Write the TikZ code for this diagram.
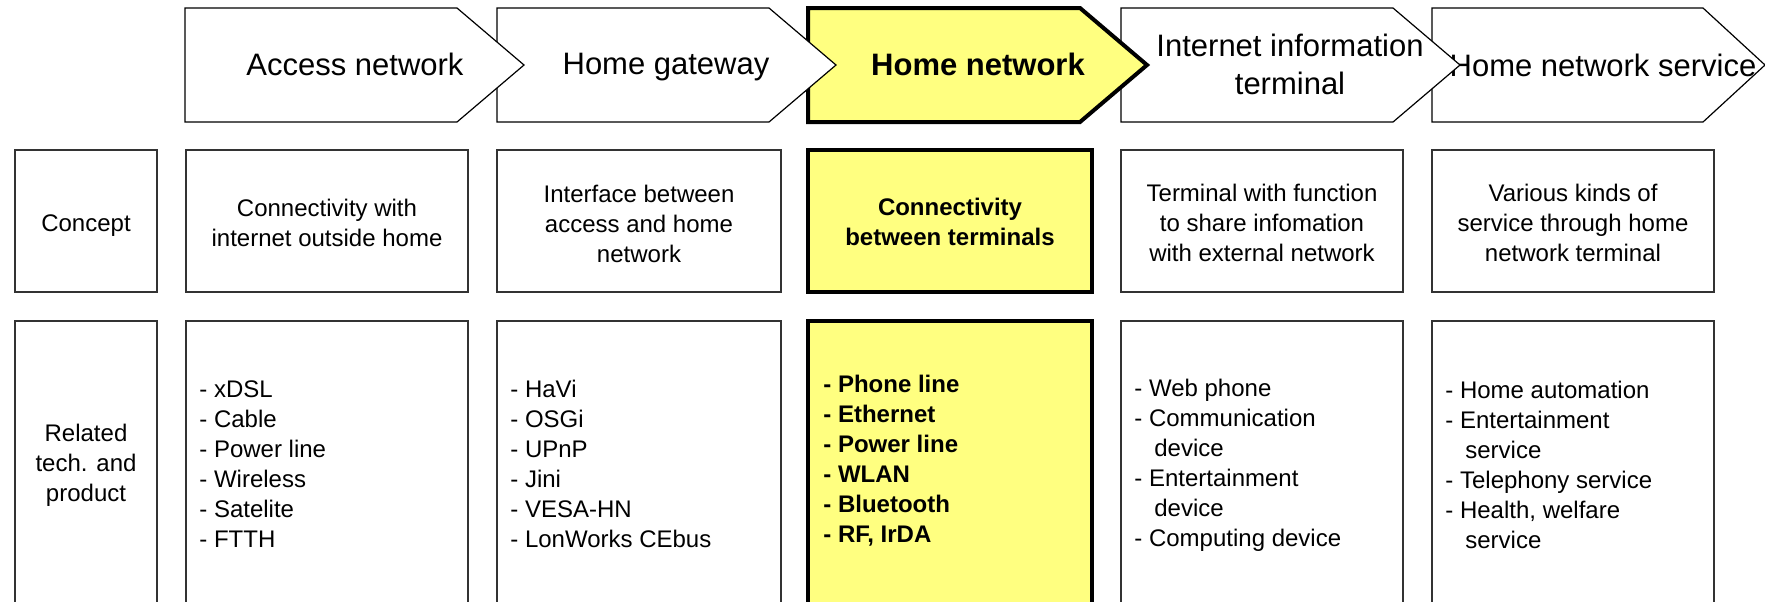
\documentclass[tikz,border=0pt]{standalone}
\usepackage{fontspec}
\setmainfont{Liberation Sans}
\usetikzlibrary{fit}
\definecolor{hl}{RGB}{255,255,128}
\tikzset{
  x=0.5pt, y=-0.5pt,
  chev/.style={draw=black, line width=0.6pt, fill=white, line join=miter},
  chevhl/.style={draw=black, line width=2pt, fill=hl, line join=miter},
  cell/.style={draw=black!80, line width=0.6pt, fill=white, rectangle, inner sep=0pt},
  cellhl/.style={cell, draw=black, line width=2pt, fill=hl},
  head/.style={font=\fontsize{15.5}{19}\selectfont, align=center, inner sep=0pt},
  headb/.style={font=\fontsize{15.5}{19}\selectfont\bfseries, align=center, inner sep=0pt},
  body/.style={font=\fontsize{12}{15}\selectfont, align=center, inner sep=0pt},
  bodyb/.style={font=\fontsize{12}{15}\selectfont\bfseries, align=center, inner sep=0pt},
  listtxt/.style={font=\fontsize{12}{15}\selectfont, align=left, anchor=west, inner sep=0pt},
  listtxtb/.style={listtxt, font=\fontsize{12}{15}\selectfont\bfseries},
}
\newcommand{\ind}{\hspace*{0.83em}}
\begin{document}
\begin{tikzpicture}
\useasboundingbox (0,0) rectangle (1765,601);
% ---- row 1: chevrons (drawn right to left so each tip lies on the next) ----
\draw[chev] (1432,8) -- (1703,8) -- (1765,65) -- (1703,122) -- (1432,122) -- cycle;
\node[head] (h5) at (1603,65) {Home network service};
\draw[chev] (1121,8) -- (1393,8) -- (1460,65) -- (1393,122) -- (1121,122) -- cycle;
\node[head] (h4) at (1290,64) {Internet information\\terminal};
\draw[chevhl] (808,8) -- (1080,8) -- (1147,65) -- (1080,122) -- (808,122) -- cycle;
\node[headb] (h3) at (978,64) {Home network};
\draw[chev] (497,8) -- (769,8) -- (836,65) -- (769,122) -- (497,122) -- cycle;
\node[head] (h2) at (666,67) {Home gateway};
\draw[chev] (185,8) -- (457,8) -- (524,65) -- (457,122) -- (185,122) -- cycle;
\node[head] (h1) at (355,64) {Access network};
% ---- row 2: concept ----
\node[cell, fit={(15,150) (157,292)}] (c0) {};
\node[cell, fit={(186,150) (468,292)}] (c1) {};
\node[cell, fit={(497,150) (781,292)}] (c2) {};
\node[cellhl, fit={(808,150) (1092,292)}] (c3) {};
\node[cell, fit={(1121,150) (1403,292)}] (c4) {};
\node[cell, fit={(1432,150) (1714,292)}] (c5) {};
\node[body] (tc0) at (86,226) {Concept};
\node[body] (tc1) at (327,223) {Connectivity with\\internet outside home};
\node[body] (tc2) at (639,224) {Interface between\\access and home\\network};
\node[bodyb] (tc3) at (950,222) {Connectivity\\between terminals};
\node[body] (tc4) at (1262,223) {Terminal with function\\to share infomation\\with external network};
\node[body] (tc5) at (1573,223) {Various kinds of\\service through home\\network terminal};
% ---- row 3: related tech. and product ----
\node[cell, fit={(15,321) (157,604)}] (r0) {};
\node[cell, fit={(186,321) (468,604)}] (r1) {};
\node[cell, fit={(497,321) (781,604)}] (r2) {};
\node[cellhl, fit={(808,321) (1092,604)}] (r3) {};
\node[cell, fit={(1121,321) (1403,604)}] (r4) {};
\node[cell, fit={(1432,321) (1714,604)}] (r5) {};
\node[body] (tr0) at (86,465) {Related\\tech. and\\product};
\node[listtxt] (tr1) at (199,464) {- xDSL\\- Cable\\- Power line\\- Wireless\\- Satelite\\- FTTH};
\node[listtxt] (tr2) at (510,464) {- HaVi\\- OSGi\\- UPnP\\- Jini\\- VESA-HN\\- LonWorks CEbus};
\node[listtxtb] (tr3) at (823,461) {- Phone line\\- Ethernet\\- Power line\\- WLAN\\- Bluetooth\\- RF, IrDA};
\node[listtxt] (tr4) at (1134,465) {- Web phone\\- Communication\\\ind device\\- Entertainment\\\ind device\\- Computing device};
\node[listtxt] (tr5) at (1445,465) {- Home automation\\- Entertainment\\\ind service\\- Telephony service\\- Health, welfare\\\ind service};
\end{tikzpicture}
\end{document}
